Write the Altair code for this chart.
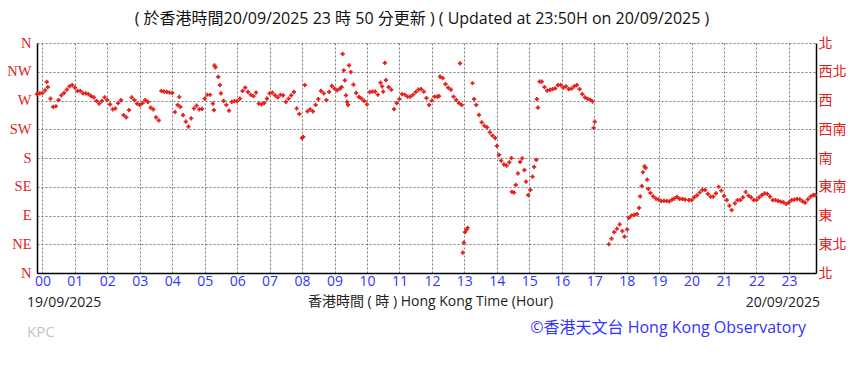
import altair as alt
import pandas as pd

# ---- data: minutes from 00:00 (window 23:50 -> 23:50) and wind direction in degrees ----
minutes = [
    -10, -5, 0, 5, 8, 10, 15, 20, 25, 30, 35, 40, 45, 50, 55,
    60, 65, 70, 75, 80, 85, 90, 95, 100, 105, 110, 115,
    120, 125, 130, 135, 140, 145, 150, 155, 160, 165, 170, 175,
    180, 185, 190, 195, 200, 205, 210, 215, 220, 225, 230, 235,
    240, 245, 250, 253, 255, 260, 265, 270, 275, 280, 285, 290, 295,
    300, 305, 310, 315, 317, 318, 320, 325, 328, 330, 335, 340, 345, 350, 355,
    360, 365, 370, 375, 380, 385, 390, 395, 400, 405, 410, 415,
    420, 425, 430, 435, 440, 445, 450, 455, 460, 465, 470, 475,
    480, 482, 485, 490, 495, 500, 505, 510, 515, 520, 525, 530, 535,
    540, 545, 550, 553, 555, 557, 559, 561, 563, 565, 567, 570, 575, 580, 585, 590, 595,
    600, 605, 610, 615, 620, 625, 628, 630, 633, 635, 640, 645, 650, 655,
    660, 665, 670, 675, 680, 685, 690, 695, 700, 705, 710, 715,
    720, 725, 730, 733, 735, 740, 745, 750, 755, 760, 765, 770, 772, 775,
    777, 779, 781, 784, 786, 795, 798, 802, 807, 812, 817, 822, 827, 832, 837,
    840, 844, 848, 853, 858, 863, 867, 868, 872, 875, 879, 883, 887, 891, 894, 898,
    902, 906, 909, 913, 914, 916, 919, 923, 928, 933, 938, 943, 948, 953, 958,
    963, 968, 973, 978, 983, 988, 993, 998, 1003, 1008, 1013, 1017, 1019, 1021,
    1047, 1052, 1057, 1062, 1067, 1072, 1076,
    1081, 1084, 1089, 1094, 1099, 1103, 1105, 1108, 1110, 1113, 1115, 1118, 1120, 1124, 1129, 1134, 1139,
    1144, 1149, 1154, 1159, 1164, 1168, 1173, 1178, 1183, 1188, 1195,
    1200, 1205, 1210, 1215, 1220, 1225, 1230, 1235, 1240, 1245, 1250, 1255,
    1260, 1265, 1270, 1274, 1280, 1285, 1290, 1295, 1300, 1305, 1310, 1315,
    1320, 1325, 1330, 1335, 1340, 1345, 1350, 1355, 1360, 1365, 1370, 1375,
    1380, 1385, 1390, 1395, 1400, 1405, 1410, 1415, 1420, 1425, 1428,
]
direction = [
    280, 281, 282, 286, 299, 291, 273, 260, 261, 270.5, 278, 282, 287, 292, 294,
    290, 285, 285, 281, 281, 280, 277, 275, 269.5, 265, 269, 275,
    270.5, 264, 256, 257.5, 266, 270.5, 247, 243.5, 255, 275, 270.5, 265,
    263, 266, 270.5, 268, 259, 256, 243.5, 239, 285, 284, 283.5, 282.5,
    282, 252, 263, 275.5, 260, 247, 237, 229, 242, 257.5, 262, 256, 257,
    273, 279, 279, 265, 255, 325, 322, 307, 294, 281, 269.5, 263, 254, 268, 269,
    269, 273, 285, 290, 283.5, 279, 277, 282.5, 265, 264, 266, 273,
    281, 282.5, 278, 275, 279, 278, 268, 273, 278, 283.5, 257.5, 249,
    211, 213, 294, 253, 256, 253, 263, 272, 285, 281, 270.5, 283.5, 293,
    288.5, 286, 288.5, 291, 343, 317, 301.5, 278, 268, 263, 325, 314.6, 295, 282, 275.7, 273, 269.5,
    264, 283, 284, 284, 279, 298, 292, 284, 329, 302, 291, 287, 256.5, 266,
    272, 280, 279, 276, 276, 279, 283, 287, 287.7, 284, 273.6, 263,
    270, 276, 276, 277, 307.4, 305, 295.5, 290, 287, 276, 271, 266, 328, 263,
    32, 47.4, 64, 68, 70.8, 297, 272, 263, 247.6, 235.7, 230.5, 228, 220, 215, 211,
    199, 185, 176, 170, 168, 173, 180, 127, 126, 138, 156, 174, 179.5, 161, 143, 122,
    130, 151, 166, 177, 272, 259, 299.6, 299.6, 291, 285.6, 286.6, 287.7, 289, 294, 294,
    290, 292, 287.7, 288.7, 292, 294, 287.7, 280, 275, 272.6, 271, 268.4, 227, 237,
    45, 53.7, 64, 69.3, 76, 65.7, 56.8,
    68.2, 86.4, 90, 91, 92, 102, 120, 136, 157.7, 167, 164.4, 146, 131.7, 125.4, 120, 116.6, 115,
    112.4, 113, 112.4, 112, 115, 116.6, 119, 116, 116, 115, 114,
    114, 118.5, 121.6, 126, 130, 130, 123.7, 119.5, 119.5, 124.7, 135, 128.8,
    120.6, 114.2, 105.4, 98.5, 109, 114.2, 114.2, 118.5, 126.8, 121, 118.5, 114.2,
    114.2, 118.5, 122, 124.7, 124, 119.5, 114.2, 114.2, 113, 111.6, 110.6, 108,
    110.6, 114.2, 114.7, 115.7, 115.2, 112, 110, 115.2, 119.5, 122, 122,
]

hour_ticks = list(range(0, 1440, 60))
dir_ticks = [0, 45, 90, 135, 180, 225, 270, 315, 360]
left_labels = ["N", "NE", "E", "SE", "S", "SW", "W", "NW", "N"]
right_labels = ["北", "東北", "東", "東南", "南", "西南", "西", "西北", "北"]
title_text = "( 於香港時間20/09/2025 23 時 50 分更新 )  ( Updated at 23:50H on 20/09/2025 )"
x_title = "香港時間 ( 時 ) Hong Kong Time (Hour)"
date_left = "19/09/2025"
date_right = "20/09/2025"
station = "KPC"
credit = "©香港天文台 Hong Kong Observatory"

RED = "#e3201b"
LABEL_RED = "#e02020"
BLUE = "#3333ff"
FONT = "Open Sans, Noto Sans CJK TC"

df = pd.DataFrame({"minute": minutes, "direction": direction})

x_scale = alt.Scale(domain=[-10, 1430], nice=False, zero=False)
y_scale = alt.Scale(domain=[0, 360], nice=False, zero=False)

left_expr = "[" + ",".join("'%s'" % s for s in left_labels) + "][round(datum.value/45)]"
right_expr = "[" + ",".join("'%s'" % s for s in right_labels) + "][round(datum.value/45)]"
hour_expr = "(datum.value < 600 ? '0' : '') + round(datum.value/60)"

grid_kw = dict(grid=True, gridColor="#7a7a7a", gridDash=[2, 2], gridWidth=1)

points = alt.Chart(df).mark_point(
    shape="cross", filled=True, size=18, color=RED, opacity=1
).encode(
    x=alt.X("minute:Q", scale=x_scale, axis=alt.Axis(
        values=hour_ticks, labelExpr=hour_expr, title=x_title,
        labelColor=BLUE, labelFont=FONT, labelFontSize=14, labelPadding=1,
        labelFlush=False, labelOverlap=False, ticks=False,
        domainColor="#000000", domainWidth=1.5,
        titleFont=FONT, titleFontSize=14, titleFontWeight="normal", titleColor="#222222",
        titlePadding=6, titleX=393, **grid_kw)),
    y=alt.Y("direction:Q", scale=y_scale, axis=alt.Axis(
        orient="left", values=dir_ticks, labelExpr=left_expr, title=None,
        labelColor=LABEL_RED, labelFont="Liberation Serif", labelFontSize=14.5,
        labelPadding=6, labelFlush=False, labelOverlap=False, ticks=False,
        domainColor="#000000", domainWidth=1.5, **grid_kw)),
)

right_axis = alt.Chart(df).mark_point(opacity=0).encode(
    y=alt.Y("direction:Q", scale=y_scale, axis=alt.Axis(
        orient="right", values=dir_ticks, labelExpr=right_expr, title=None,
        labelColor=LABEL_RED, labelFont="Noto Sans CJK TC", labelFontSize=14,
        labelPadding=2, labelFlush=False, labelOverlap=False, ticks=False,
        grid=False, domainColor="#000000", domainWidth=1.5)),
)


def label(txt, x, y, align, color, size):
    return alt.Chart(pd.DataFrame({"t": [txt]})).mark_text(
        align=align, baseline="middle", font=FONT, fontSize=size, color=color
    ).encode(text="t:N", x=alt.value(x), y=alt.value(y))


texts = [
    label(title_text, 385, -24, "center", "#111111", 16),
    label(date_left, -10, 260, "left", "#222222", 14),
    label(date_right, 783, 260, "right", "#222222", 14),
    label(station, -10, 289, "left", "#c4c4c4", 15),
    label(credit, 769, 285, "right", BLUE, 16),
]

chart = alt.layer(points, right_axis, *texts).resolve_axis(y="independent").properties(
    width=779, height=230,
    padding={"left": 29, "top": 35, "right": 39, "bottom": 103},
    autosize=alt.AutoSizeParams(type="none"),
    background="white",
).configure_view(strokeWidth=0)

chart.save("out.html", embed_options={"renderer": "svg", "actions": False})
